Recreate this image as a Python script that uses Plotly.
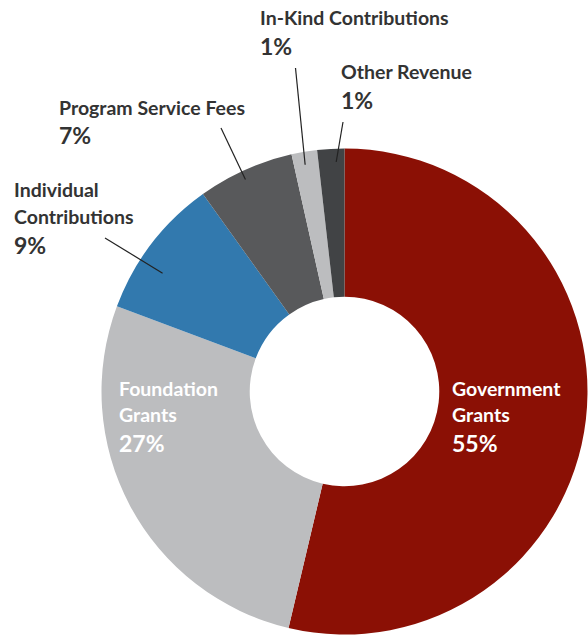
import math
import plotly.graph_objects as go

# ---- data ----
categories = ["Government Grants", "Foundation Grants", "Individual Contributions",
              "Program Service Fees", "In-Kind Contributions", "Other Revenue"]
shares = [53.7, 27.0, 9.4, 6.4, 1.7, 1.8]          # slice sizes read from the arcs
pct_labels = ["55%", "27%", "9%", "7%", "1%", "1%"]  # printed percentages
name_lines = [["Government", "Grants"], ["Foundation", "Grants"],
              ["Individual", "Contributions"], ["Program Service Fees"],
              ["In-Kind Contributions"], ["Other Revenue"]]
colors = ["#8b1005", "#bcbdbf", "#3279ae", "#58595b", "#bcbdbf", "#414345"]

# ---- layout constants (pixels) ----
W, H = 588, 637
CX, CY, R = 344.5, 391.5, 243.0
HOLE = 0.39
FONT = "Lato, 'Source Sans Pro', 'Noto Sans', sans-serif"
NAME_SIZE, PCT_SIZE = 19.5, 23
TX = -3  # annotation padding compensation
# label block: left x, first-line centre y, text colour
label_pos = [(453, 388, "white"), (120, 388, "white"), (15, 190, "#333333"),
             (60, 107, "#333333"), (261, 18, "#333333"), (342, 72, "#333333")]
# leader lines: outer end in px, anchor position inside slice (fraction of slice, fraction of R)
leader = {2: ((105, 238), 0.37, 0.893), 3: ((221, 128), 0.46, 0.963),
          4: ((295.5, 68), 0.45, 0.947), 5: ((343, 122), 0.68, 0.945)}

px = lambda x: x / W
py = lambda y: 1 - y / H

fig = go.Figure(go.Pie(
    labels=categories, values=shares, sort=False, direction="clockwise", rotation=0,
    hole=HOLE, marker=dict(colors=colors, line=dict(width=0)), textinfo="none",
    hoverinfo="label+percent",
    domain=dict(x=[px(CX - R), px(CX + R)], y=[py(CY + R), py(CY - R)]),
))

annotations, shapes = [], []
for i, lines in enumerate(name_lines):
    x0, y0, col = label_pos[i]
    y = y0
    for ln in lines:
        annotations.append(dict(text=ln, x=px(x0 + TX), y=py(y), xref="paper", yref="paper",
                                xanchor="left", yanchor="middle", showarrow=False,
                                font=dict(family=FONT, size=NAME_SIZE, color=col, weight=700)))
        y += 26.5
    y += 1.5
    annotations.append(dict(text=pct_labels[i], x=px(x0 + TX), y=py(y), xref="paper", yref="paper",
                            xanchor="left", yanchor="middle", showarrow=False,
                            font=dict(family=FONT, size=PCT_SIZE, color=col, weight=700)))

total = sum(shares)
cum = 0.0
starts = []
for v in shares:
    starts.append(cum)
    cum += v
for i, ((ox, oy), frac, rf) in leader.items():
    ang = (starts[i] + frac * shares[i]) / total * 2 * math.pi
    ix = CX + rf * R * math.sin(ang)
    iy = CY - rf * R * math.cos(ang)
    shapes.append(dict(type="line", xref="paper", yref="paper",
                       x0=px(ox), y0=py(oy), x1=px(ix), y1=py(iy),
                       line=dict(color="#222222", width=1.2)))

fig.update_layout(width=W, height=H, margin=dict(l=0, r=0, t=0, b=0),
                  paper_bgcolor="white", plot_bgcolor="white", showlegend=False,
                  annotations=annotations, shapes=shapes)
fig.write_html("out.html", config={"displayModeBar": False},
               post_script="document.body.style.margin='0';document.body.style.overflow='hidden';")
